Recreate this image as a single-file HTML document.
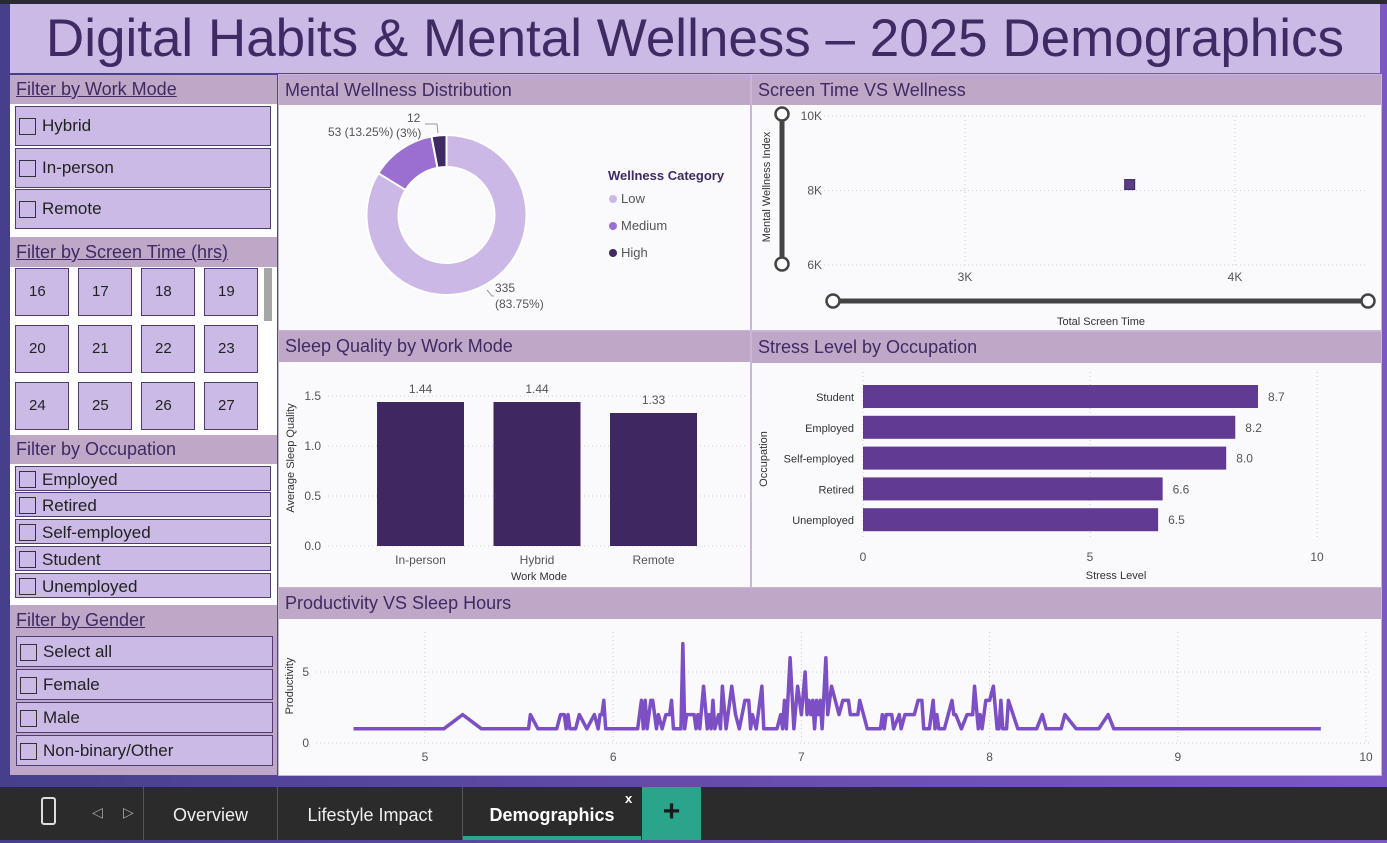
<!DOCTYPE html>
<html><head><meta charset="utf-8">
<style>
*{box-sizing:border-box;margin:0;padding:0}
body{width:1387px;height:840px;overflow:hidden;font-family:"Segoe UI","Liberation Sans","DejaVu Sans",sans-serif;background:linear-gradient(90deg,#453f8c,#6a4fb0 60%,#7b58c4);position:relative}
.a{position:absolute}
.hdr{position:absolute;background:#bfa7c8;color:#3f2a63;font-size:18px;padding-left:6px;line-height:30px}
.fh{text-decoration:underline}
.item{position:absolute;background:#cbbae6;border:1.5px solid #4f3c72;color:#222;font-size:17px;padding-left:26px}
.item:before{content:"";position:absolute;left:3px;top:50%;margin-top:-8px;width:15px;height:15px;border:1.3px solid #333}
.tile{position:absolute;background:#cbbae6;border:1.5px solid #4f3c72;font-size:15px;color:#222;padding-left:13px;line-height:46px;width:54px;height:48px}
.panel{position:absolute;background:#faf9fc}
svg text{font-family:"Segoe UI","Liberation Sans",sans-serif}
</style></head><body>
<div class="a" style="left:0;top:0;width:1387px;height:4px;background:#2a2a35"></div>
<div class="a" style="left:10px;top:4px;width:1370px;height:69px;background:#cbbae6;color:#3f2a63;font-size:53px;text-align:center;line-height:70px">Digital Habits &amp; Mental Wellness – 2025 Demographics</div>

<!-- sidebar -->
<div class="a" style="left:10px;top:104px;width:267px;height:501px;background:#fff"></div>
<div class="hdr fh" style="left:10px;top:75px;width:267px;height:29px;line-height:28px">Filter by Work Mode</div>
<div class="item" style="left:15px;top:106px;width:256px;height:40px;line-height:38px">Hybrid</div>
<div class="item" style="left:15px;top:148px;width:256px;height:40px;line-height:38px">In-person</div>
<div class="item" style="left:15px;top:189px;width:256px;height:40px;line-height:38px">Remote</div>

<div class="hdr fh" style="left:10px;top:237px;width:267px;height:30px">Filter by Screen Time (hrs)</div>
<div id="tiles"></div>
<div class="a" style="left:264px;top:268px;width:8px;height:53px;background:#a6a6a6"></div>

<div class="hdr" style="left:10px;top:435px;width:267px;height:29px;line-height:28px">Filter by Occupation</div>
<div class="item" style="left:15px;top:466px;width:256px;height:25px;line-height:25px">Employed</div>
<div class="item" style="left:15px;top:492px;width:256px;height:25px;line-height:25px">Retired</div>
<div class="item" style="left:15px;top:519px;width:256px;height:25px;line-height:25px">Self-employed</div>
<div class="item" style="left:15px;top:546px;width:256px;height:25px;line-height:25px">Student</div>
<div class="item" style="left:15px;top:573px;width:256px;height:25px;line-height:25px">Unemployed</div>

<div class="a" style="left:10px;top:605px;width:267px;height:170px;background:#bfa7c8"></div>
<div class="hdr fh" style="left:10px;top:605px;width:267px;height:30px">Filter by Gender</div>
<div class="item" style="left:16px;top:636px;width:257px;height:31px;line-height:30px">Select all</div>
<div class="item" style="left:16px;top:669px;width:257px;height:31px;line-height:30px">Female</div>
<div class="item" style="left:16px;top:702px;width:257px;height:31px;line-height:30px">Male</div>
<div class="item" style="left:16px;top:735px;width:257px;height:31px;line-height:30px">Non-binary/Other</div>

<!-- panels -->
<div class="a" style="left:278px;top:74px;width:1104px;height:702px;background:#c9b4dc"></div>
<div class="hdr" style="left:279px;top:75px;width:471px;height:30px">Mental Wellness Distribution</div>
<div class="panel" style="left:279px;top:105px;width:471px;height:225px"></div>
<div class="hdr" style="left:752px;top:75px;width:629px;height:30px">Screen Time VS Wellness</div>
<div class="panel" style="left:752px;top:105px;width:629px;height:225px"></div>
<div class="hdr" style="left:279px;top:331px;width:471px;height:31px">Sleep Quality by Work Mode</div>
<div class="panel" style="left:279px;top:362px;width:471px;height:225px"></div>
<div class="hdr" style="left:752px;top:332px;width:629px;height:31px">Stress Level by Occupation</div>
<div class="panel" style="left:752px;top:363px;width:629px;height:224px"></div>
<div class="hdr" style="left:279px;top:588px;width:1102px;height:31px">Productivity VS Sleep Hours</div>
<div class="panel" style="left:279px;top:619px;width:1102px;height:156px"></div>

<svg class="a" style="left:0;top:0" width="1387" height="840" id="charts"></svg>

<!-- bottom bar -->
<div class="a" style="left:0;top:787px;width:1387px;height:53px;background:#2b2b2b"></div>
<div class="a" style="left:41px;top:797px;width:15px;height:28px;border:2px solid #ddd;border-radius:3px"></div>
<div class="a" style="left:92px;top:804px;color:#aaa;font-size:14px">◁</div>
<div class="a" style="left:123px;top:804px;color:#aaa;font-size:14px">▷</div>
<div class="a" style="left:143px;top:787px;width:1px;height:53px;background:#555"></div>
<div class="a" style="left:144px;top:787px;width:133px;height:53px;color:#eee;font-size:18px;text-align:center;line-height:56px">Overview</div>
<div class="a" style="left:277px;top:787px;width:1px;height:53px;background:#555"></div>
<div class="a" style="left:278px;top:787px;width:184px;height:53px;color:#eee;font-size:18px;text-align:center;line-height:56px">Lifestyle Impact</div>
<div class="a" style="left:462px;top:787px;width:1px;height:53px;background:#555"></div>
<div class="a" style="left:463px;top:787px;width:178px;height:53px;color:#fff;font-weight:bold;font-size:18px;text-align:center;line-height:56px;border-bottom:4px solid #2aa58c">Demographics</div>
<div class="a" style="left:625px;top:791px;color:#fff;font-weight:bold;font-size:13px">x</div>
<div class="a" style="left:642px;top:787px;width:59px;height:53px;background:#2aa58c;color:#1a1a1a;font-size:30px;font-weight:bold;text-align:center;line-height:50px">+</div>

<script>
// ---- data ----
const tileLabels=["16","17","18","19","20","21","22","23","24","25","26","27"];
const donutCats=["Low","Medium","High"];
const donutVals=[335,53,12];
const donutLabels=["335 (83.75%)","53 (13.25%)","12 (3%)"];
const scatterX=[3610];
const scatterY=[8160];
const scatterXTicks=[3000,4000];
const scatterYTicks=[6000,8000,10000];
const sleepCats=["In-person","Hybrid","Remote"];
const sleepVals=[1.44,1.44,1.33];
const sleepTicks=[0,0.5,1.0,1.5];
const stressCats=["Student","Employed","Self-employed","Retired","Unemployed"];
const stressVals=[8.7,8.2,8.0,6.6,6.5];
const stressTicks=[0,5,10];
const prodX=[4.62,5.1,5.2,5.3,5.55,5.56,5.6,5.7,5.72,5.74,5.75,5.76,5.77,5.8,5.82,5.86,5.9,5.92,5.93,5.94,5.95,5.96,6.13,6.15,6.16,6.17,6.18,6.2,6.21,6.23,6.24,6.26,6.28,6.3,6.31,6.32,6.36,6.37,6.38,6.39,6.43,6.44,6.45,6.46,6.48,6.5,6.51,6.52,6.53,6.54,6.56,6.57,6.58,6.6,6.63,6.65,6.67,6.7,6.72,6.73,6.74,6.76,6.79,6.8,6.87,6.89,6.9,6.91,6.92,6.94,6.96,6.98,7.0,7.02,7.03,7.04,7.05,7.06,7.07,7.08,7.09,7.1,7.11,7.13,7.14,7.16,7.2,7.22,7.25,7.26,7.3,7.31,7.33,7.35,7.42,7.43,7.44,7.45,7.48,7.49,7.52,7.53,7.55,7.6,7.62,7.64,7.65,7.68,7.7,7.71,7.72,7.73,7.76,7.8,7.81,7.82,7.85,7.88,7.91,7.92,7.94,7.95,7.96,7.98,8.0,8.02,8.04,8.05,8.06,8.07,8.09,8.1,8.15,8.25,8.28,8.3,8.38,8.4,8.46,8.58,8.63,8.66,9.76];
const prodY=[1,1,2,1,1,2,1,1,2,2,1,2,1,1,2,1,2,1,2,2,3,1,1,3,1,3,1,3,3,1,2,1,2,2,3,1,1,7,1,2,2,1,2,1,4,1,2,1,3,1,2,1,4,1,4,2,1,3,3,1,2,1,4,1,1,2,1,3,1,6,1,4,2,5,2,3,2,3,1,3,2,3,1,6,2,4,2,3,3,2,2,3,2,1,1,2,1,2,2,1,2,1,2,2,3,3,1,1,3,1,2,1,1,3,2,2,1,2,2,4,1,2,1,3,3,4,1,1,3,1,1,3,1,1,2,1,1,2,1,1,2,1,1];
const prodXTicks=[5,6,7,8,9,10];
const prodYTicks=[0,5];

// tiles
const tc=document.getElementById('tiles');
const colX=[15,78,141,204], rowY=[268,325,382];
tileLabels.forEach((t,i)=>{
  const d=document.createElement('div');
  d.className='tile';
  
  
  d.style.left=colX[i%4]+'px';d.style.top=rowY[Math.floor(i/4)]+'px';
  d.textContent=t;tc.appendChild(d);
});

const svg=document.getElementById('charts');
const NS='http://www.w3.org/2000/svg';
function el(tag,attrs,parent){const e=document.createElementNS(NS,tag);for(const k in attrs)e.setAttribute(k,attrs[k]);(parent||svg).appendChild(e);return e;}
function txt(x,y,s,attrs){const t=el('text',Object.assign({x:x,y:y,'font-size':12,fill:'#555'},attrs||{}));t.textContent=s;return t;}

// ---- donut ----
const cx=446.5,cy=215,R=80,r=48;
const dCols=['#cbb8e6','#9b6fd1','#3f2a63'];
const tot=donutVals.reduce((a,b)=>a+b,0);
let acc=0;
donutVals.forEach((v,i)=>{
  const a0=acc/tot*2*Math.PI, a1=(acc+v)/tot*2*Math.PI; acc+=v;
  const p=(a,rr)=>[cx+rr*Math.sin(a),cy-rr*Math.cos(a)];
  const [x0,y0]=p(a0,R),[x1,y1]=p(a1,R),[x2,y2]=p(a1,r),[x3,y3]=p(a0,r);
  const lg=(a1-a0)>Math.PI?1:0;
  const s=el('path',{d:`M${x0},${y0}A${R},${R} 0 ${lg} 1 ${x1},${y1}L${x2},${y2}A${r},${r} 0 ${lg} 0 ${x3},${y3}Z`,fill:dCols[i],stroke:'#fff','stroke-width':2});
  
  
});
txt(495,292,'335',{'font-size':12});txt(495,308,'(83.75%)',{'font-size':12});
el('path',{d:'M487,290 L492,296 L494,296',stroke:'#999',fill:'none'});
txt(328,136,'53 (13.25%)',{'font-size':12});
txt(407,122,'12',{'font-size':12});txt(396,137,'(3%)',{'font-size':12});
el('path',{d:'M425,124 L437,124 L438,133',stroke:'#999',fill:'none'});
const lt=txt(608,180,'Wellness Category',{'font-size':13,'font-weight':'bold',fill:'#3f2a63'});


donutCats.forEach((c,i)=>{
  el('circle',{cx:613,cy:199+i*27,r:4,fill:dCols[i]});
  const t=txt(621,203+i*27,c,{'font-size':13});
  
  
});

// ---- scatter ----
const sx=v=>965+(v-3000)*0.27, sy=v=>265-(v-6000)*(149/4000);
scatterYTicks.forEach(v=>{el('line',{x1:820,x2:1367,y1:sy(v),y2:sy(v),stroke:'#ccc','stroke-dasharray':'1 3'});txt(822,sy(v)+4,(v/1000)+'K',{'text-anchor':'end','font-size':12})});
scatterXTicks.forEach(v=>{el('line',{x1:sx(v),x2:sx(v),y1:116,y2:265,stroke:'#ccc','stroke-dasharray':'1 3'});txt(sx(v),281,(v/1000)+'K',{'text-anchor':'middle','font-size':12})});
scatterX.forEach((v,i)=>{const m=el('rect',{x:sx(v)-5,y:sy(scatterY[i])-5,width:10,height:10,fill:'#5a3d82',stroke:'#3f2a63'});
  
  });
el('line',{x1:782,x2:782,y1:116,y2:265,stroke:'#444','stroke-width':5});
el('circle',{cx:782,cy:114,r:6.5,fill:'#fff',stroke:'#444','stroke-width':2.5});
el('circle',{cx:782,cy:264,r:6.5,fill:'#fff',stroke:'#444','stroke-width':2.5});
el('line',{x1:833,x2:1368,y1:301,y2:301,stroke:'#444','stroke-width':5});
el('circle',{cx:833,cy:301,r:6.5,fill:'#fff',stroke:'#444','stroke-width':2.5});
el('circle',{cx:1368,cy:301,r:6.5,fill:'#fff',stroke:'#444','stroke-width':2.5});
txt(1101,325,'Total Screen Time',{'text-anchor':'middle','font-size':11,fill:'#333'});
txt(0,0,'Mental Wellness Index',{'font-size':11,fill:'#333','text-anchor':'middle',transform:'translate(770,187) rotate(-90)'});

// ---- sleep bars ----
const by=v=>546-v*100;
sleepTicks.forEach(v=>{el('line',{x1:328,x2:745,y1:by(v),y2:by(v),stroke:'#ccc','stroke-dasharray':'1 3'});txt(321,by(v)+4,v.toFixed(1),{'text-anchor':'end','font-size':12})});
sleepCats.forEach((c,i)=>{
  const x=377+i*116.5;
  const b=el('rect',{x:x,y:by(sleepVals[i]),width:87,height:by(0)-by(sleepVals[i]),fill:'#3f2861'});
  
  
  txt(x+43.5,by(sleepVals[i])-9,sleepVals[i].toFixed(2),{'text-anchor':'middle','font-size':12});
  txt(x+43.5,564,c,{'text-anchor':'middle','font-size':12});
});
txt(539,580,'Work Mode',{'text-anchor':'middle','font-size':11,fill:'#333'});
txt(0,0,'Average Sleep Quality',{'font-size':11,fill:'#333','text-anchor':'middle',transform:'translate(294,458) rotate(-90)'});

// ---- stress bars ----
const hx=v=>863+v*45.4;
stressTicks.forEach(v=>{el('line',{x1:hx(v),x2:hx(v),y1:372,y2:540,stroke:'#ccc','stroke-dasharray':'1 3'});txt(hx(v),561,String(v),{'text-anchor':'middle','font-size':12})});
stressCats.forEach((c,i)=>{
  const y=385+i*30.8;
  const b=el('rect',{x:hx(0),y:y,width:hx(stressVals[i])-hx(0),height:23,fill:'#603a93'});
  
  
  txt(854,y+16,c,{'text-anchor':'end','font-size':11,fill:'#333'});
  txt(hx(stressVals[i])+10,y+16,stressVals[i].toFixed(1),{'font-size':12});
});
txt(1116,579,'Stress Level',{'text-anchor':'middle','font-size':11,fill:'#333'});
txt(0,0,'Occupation',{'font-size':11,fill:'#333','text-anchor':'middle',transform:'translate(767,459) rotate(-90)'});

// ---- productivity line ----
const px=v=>425+(v-5)*188.2, py=v=>743-v*14.2;
prodYTicks.forEach(v=>{el('line',{x1:316,x2:1372,y1:py(v),y2:py(v),stroke:'#ccc','stroke-dasharray':'1 3'});txt(309,py(v)+4,String(v),{'text-anchor':'end','font-size':12})});
prodXTicks.forEach(v=>{el('line',{x1:px(v),x2:px(v),y1:632,y2:743,stroke:'#ccc','stroke-dasharray':'1 3'});txt(px(v),761,String(v),{'text-anchor':'middle','font-size':12})});
const ln=el('polyline',{points:prodX.map((v,i)=>px(v)+','+py(prodY[i])).join(' '),fill:'none',stroke:'#7d4fc4','stroke-width':3.5,'stroke-linejoin':'round'});


txt(0,0,'Productivity',{'font-size':11,fill:'#333','text-anchor':'middle',transform:'translate(293,686) rotate(-90)'});
</script>
</body></html>
